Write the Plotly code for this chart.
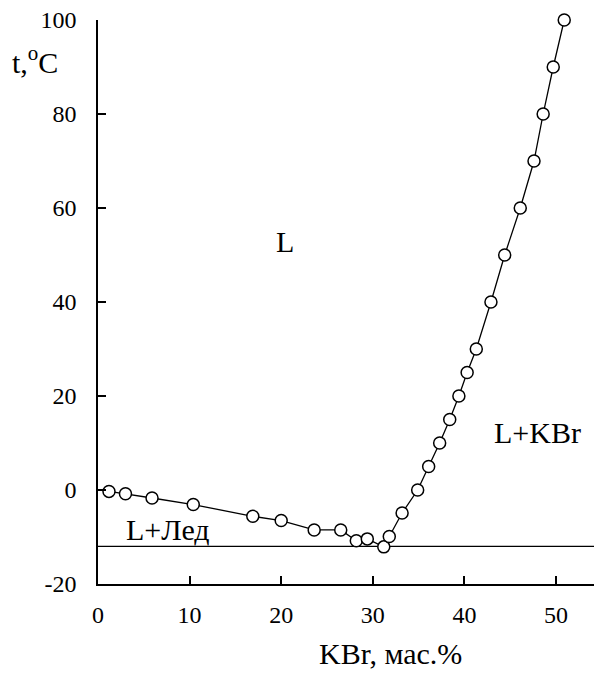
import plotly.graph_objects as go

# KBr – H2O phase diagram: liquidus points (mass %, °C)
kbr_pct = [1.2, 3.0, 5.9, 10.4, 16.9, 20.0, 23.6, 26.5, 28.2, 29.4, 31.2, 31.8,
           33.2, 34.9, 36.1, 37.3, 38.4, 39.4, 40.3, 41.3, 42.9, 44.4, 46.1,
           47.6, 48.6, 49.7, 50.9]
temp_c = [-0.3, -0.8, -1.7, -3.1, -5.6, -6.5, -8.5, -8.5, -10.8, -10.4, -12.1, -9.9,
          -4.9, 0.0, 5.0, 10.0, 15.0, 20.0, 25.0, 30.0, 40.0, 50.0, 60.0,
          70.0, 80.0, 90.0, 100.0]
eutectic_t = -12.0

x_ticks = [0, 10, 20, 30, 40, 50]
y_ticks = [-20, 0, 20, 40, 60, 80, 100]
y_tick_text = ["-20", "0", "20", "40", "60", "80", "100"]

# phase-field labels: (text, x, t)
region_labels = [("L", 20.4, 52.8), ("L+KBr", 48.0, 12.3), ("L+Лед", 7.6, -8.5)]

FONT = "Liberation Serif"

fig = go.Figure()
fig.add_trace(go.Scatter(
    x=kbr_pct, y=temp_c, mode="lines+markers",
    line=dict(color="black", width=1.3),
    marker=dict(symbol="circle", size=12, color="white",
                line=dict(color="black", width=1.5)),
    showlegend=False, cliponaxis=False,
))

fig.add_shape(type="line", xref="paper", x0=0, x1=1, yref="y",
              y0=eutectic_t, y1=eutectic_t, line=dict(color="black", width=1.3),
              layer="below")

for text, x, y in region_labels:
    fig.add_annotation(x=x, y=y, text=text, showarrow=False,
                       font=dict(family=FONT, size=30, color="black"))

fig.add_annotation(xref="paper", yref="paper", x=(390 - 98) / 496, y=(584 - 653) / 564,
                   yanchor="middle", xanchor="center", text="KBr, мас.%", showarrow=False,
                   font=dict(family=FONT, size=30, color="black"))
fig.add_annotation(xref="paper", yref="paper", x=(35 - 98) / 496, y=(584 - 60) / 564,
                   yanchor="middle", xanchor="center", text="t,<sup>o</sup>C", showarrow=False,
                   font=dict(family=FONT, size=30, color="black"))

axis_common = dict(
    showline=True, linecolor="black", linewidth=1.5,
    ticks="inside", ticklen=8, tickwidth=1.5, tickcolor="black",
    showgrid=False, zeroline=False,
    tickfont=dict(family=FONT, size=24, color="black"),
)
fig.update_xaxes(range=[0, 54.15], tickvals=x_ticks, ticklabelstandoff=8, **axis_common)
fig.update_yaxes(range=[-20, 100], tickvals=y_ticks, ticktext=y_tick_text,
                 ticklabelstandoff=15, **axis_common)

fig.update_layout(
    width=594, height=675,
    margin=dict(l=98, r=0, t=20, b=91),
    plot_bgcolor="white", paper_bgcolor="white",
    font=dict(family=FONT, color="black"),
)

fig.write_html("out.html")
